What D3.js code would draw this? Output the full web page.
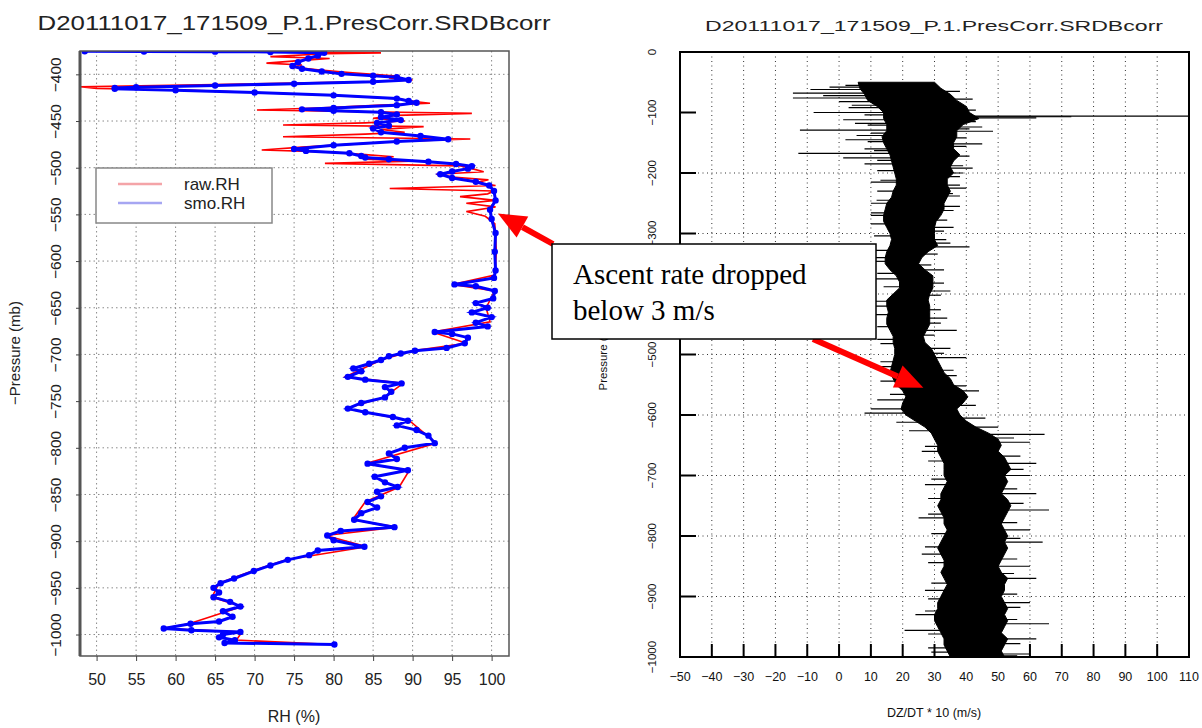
<!DOCTYPE html>
<html>
<head>
<meta charset="utf-8">
<script src="https://cdn.jsdelivr.net/npm/d3@7"></script>
<style>
  body { margin: 0; background: #fff; }
  svg { display: block; font-family: "Liberation Sans", Arial, sans-serif; }
</style>
</head>
<body>
<svg id="chart" width="1202" height="728"></svg>
<script>
// ---- DATA ----
const chartTitle = "D20111017_171509_P.1.PresCorr.SRDBcorr";

// left panel: [pressure mb, RH %]
const rawRH = [
  [375.3, 50], [375.6, 62], [376, 74], [377, 86], [378, 79], [381, 72], [383, 79.5], [385, 76],
  [388, 71.5], [390, 76], [392, 74.5], [395, 78], [398, 82], [400, 85], [402, 88.4], [404, 87],
  [406, 90], [408, 84], [411, 65], [413.3, 47.9], [415, 50], [417, 62], [420, 72], [423, 81],
  [426, 88], [429.3, 90.5], [431, 92.2], [433, 86], [436, 78], [438.2, 70.3], [440, 84], [441.8, 97.5],
  [444, 88], [447, 85], [450, 89], [452, 84], [454.3, 73.6], [456, 91.4], [459, 86], [462, 89],
  [464, 84], [466.8, 73.6], [469.3, 97.3], [472, 88], [475, 82], [478, 76], [481, 70.9], [483, 79],
  [486, 84], [488.2, 87.6], [491, 84], [493, 90], [495.4, 78.9], [498, 96], [501, 97.5], [504.3, 99],
  [507, 93], [510, 95], [513, 99.6], [516, 98], [519, 100.5], [522.2, 87.1], [525, 100.3], [528, 99.5],
  [531, 96], [535, 100.5], [538, 96.8], [542, 100.5], [547, 96.8], [552, 99.2], [560, 100.4],
  [590, 100.6], [615, 100.4], [625, 95], [632, 100.4], [650, 99.3], [665, 99.8], [676, 92.5],
  [688, 96.8], [696, 90], [706, 86], [724, 81.5], [731, 88.8], [746, 86.4], [758, 81.5], [771, 89.6],
  [795, 93], [817, 84], [824, 89.6], [842, 88.3], [858, 84], [877, 82.4], [885, 88], [894, 79],
  [906, 84.2], [920, 74], [932, 69.7], [945, 65.5], [960, 64.6], [970, 68.4], [988.5, 61.7],
  [993.5, 58.3], [997.2, 68.4], [1006, 67.7], [1010.7, 80]
];

const smoRH = [
  [375.3, 48.5], [375.5, 56], [375.7, 65], [376, 72], [377, 78.8], [380, 78], [383, 76.8], [387, 75.5],
  [391, 74.8], [394, 76], [397, 78.5], [399.5, 81], [401.5, 85], [403, 88], [406, 89.5], [408, 85],
  [410, 75], [412, 65], [413.8, 55], [414.5, 52.3], [415.5, 52.3], [417, 60], [419.5, 70], [422.5, 80],
  [426, 88], [428.5, 89.5], [430.5, 90.5], [433, 88], [436, 80], [437.5, 76], [439, 80], [440.5, 86],
  [443, 88], [446, 86], [449, 88.5], [452, 85.5], [455, 87], [458, 85], [462, 86], [466, 91],
  [469.5, 94.5], [472, 88], [476, 80], [480, 75], [482, 76.5], [484.5, 82], [487.5, 83.5], [489, 84],
  [491, 87], [493.5, 92], [496, 95.5], [498.5, 97.5], [501, 97], [504, 95], [507, 93.5], [511, 95],
  [515, 98], [519, 99.7], [525, 100.3], [535, 100.5], [545, 99.8], [555, 100], [570, 100.5],
  [590, 100.4], [610, 100.5], [618, 100.3], [625, 95.3], [627, 98], [632, 100.4], [640, 100.2],
  [645, 98], [650, 99.5], [655, 97.5], [660, 100], [666, 98], [670, 99.5], [676, 92.8], [678, 95],
  [682, 97], [688, 96.6], [693, 94.3], [696, 90.3], [699, 88.5], [702, 87], [706, 86], [710, 84.5],
  [715, 82.5], [718, 83.5], [724, 81.8], [727, 84], [731, 88.6], [735, 86.5], [740, 87.3], [746, 86.5],
  [752, 83.5], [758, 81.8], [762, 84], [767, 87.5], [771, 89.4], [776, 88], [781, 90.5], [787, 92],
  [795, 92.8], [800, 89], [806, 87], [812, 88], [817, 84.3], [824, 89.4], [831, 85.2], [837, 86.5],
  [842, 88.1], [847, 85.5], [852, 86], [858, 84.3], [864, 85.5], [870, 83.5], [877, 82.6], [885, 87.7],
  [889, 80.9], [894, 79.2], [899, 80], [906, 83.9], [910, 78], [915, 76.9], [920, 74.2], [926, 72],
  [932, 69.9], [940, 67.4], [945, 65.7], [950, 64.8], [955, 65.5], [960, 64.8], [965, 66.9],
  [970, 68.2], [975, 66], [981, 67.2], [986, 65.5], [988.5, 61.9], [993.5, 58.5], [995.5, 62],
  [997.2, 68.2], [1000, 66], [1003, 65.5], [1006, 67.5], [1009, 66.2], [1010.7, 80.1]
];

const rhTicks = [50, 55, 60, 65, 70, 75, 80, 85, 90, 95, 100];
const presTicksL = [-400, -450, -500, -550, -600, -650, -700, -750, -800, -850, -900, -950, -1000];

// right panel: ascent rate band (DZ/DT*10) per pressure level
const dzP = [50, 60, 70, 80, 90, 100, 110, 120, 130, 140, 150, 160, 170, 180, 190, 200, 210, 220, 230, 240,
  250, 260, 270, 280, 290, 300, 310, 320, 330, 340, 350, 360, 370, 380, 390, 400, 410, 420, 430, 440,
  450, 460, 470, 480, 490, 500, 510, 520, 530, 540, 550, 560, 570, 580, 590, 600, 610, 620, 630, 640,
  650, 660, 670, 680, 690, 700, 710, 720, 730, 740, 750, 760, 770, 780, 790, 800, 810, 820, 830, 840,
  850, 860, 870, 880, 890, 900, 910, 920, 930, 940, 950, 960, 970, 980, 990, 1000];
const dzLo = [6, 6.5, 8, 9, 12, 14, 14, 15, 15, 13.5, 14, 15, 16, 16.5, 17, 17.5, 18, 18, 17, 16.5,
  15, 14.5, 14, 14, 15, 16, 16.5, 16, 15, 14.5, 14.5, 16, 18, 19, 19, 17, 15, 15, 15.5, 15,
  15, 16, 17, 17, 17.5, 17.5, 17, 16.5, 16, 17, 18, 20, 21, 20, 19.5, 21, 24, 27, 29, 30,
  31, 31, 32, 33, 33, 33, 34, 33, 32, 32, 31, 32, 33, 33, 34, 33, 32, 31, 32, 33,
  33, 32, 33, 34, 33, 32, 31, 31, 30, 30, 31, 32, 33, 33, 34, 35];
const dzHi = [30, 32, 35, 37, 40, 41, 44, 39, 37, 37, 36, 36, 38, 36, 35, 36, 34, 34, 35, 34,
  33, 33, 32, 30.5, 30, 30, 30, 31, 28, 26, 25, 27, 29.5, 29.5, 29.5, 28.5, 28, 28.5, 28.5, 28.5,
  28.5, 27.5, 26.5, 27, 29, 30, 31, 32, 33, 35, 36, 39, 40.5, 39, 37, 38, 40, 43, 47, 50,
  51, 50, 52, 53, 54, 52, 53, 52, 51, 53, 54, 53, 52, 51, 52, 53, 52, 53, 52, 51,
  50, 51, 53, 52, 52, 51, 52, 53, 52, 53, 52, 51, 53, 52, 51, 52];
// isolated spikes: [pressure mb, DZ/DT*10]
const dzSpikes = [
  [58, -3], [62, -9], [68, -14.5], [72, -5], [76, -14.5], [82, 0], [92, 3], [100, -8], [106, 150],
  [107, 73], [109, 62], [112, 1.3], [118, 5], [124, 45], [129, -12.3], [131, 48.4], [138, 5.5],
  [145, 2], [152, 45], [160, 8], [167.6, -12.8], [175, 1.3], [185, 8], [192, 42], [200, 39],
  [215, 10], [225, 40], [234, 35.8], [245, 11.8], [255, 38], [270, 10], [290, 36], [310, 33.7],
  [322, 41], [340, 9], [360, 33], [375, 11], [395, 35], [420, 10], [440, 34], [460, 37], [475, 12],
  [490, 35], [505, 40], [520, 12], [535, 37], [560, 44], [575, 12], [590, 10], [597, 8], [605, 46],
  [620, 50], [632, 64.6], [645, 60], [660, 26], [680, 62], [700, 60], [715, 27], [730, 62],
  [757, 66], [770, 25], [790, 60], [810, 64], [830, 26], [850, 60], [870, 62], [890, 27], [910, 60],
  [930, 24], [945, 66], [956, 20.6], [970, 62], [985, 28], [995, 60]
];
// shorter hairs along the band edges: [pressure mb, DZ/DT*10]
const dzHairs = [
  [55, 2], [65, 38], [78, 42], [88, 4], [96, 43], [104, 8], [115, 43], [121, 9], [127, 41], [134, 10],
  [142, 40], [148, 9], [156, 40], [163, 11], [172, 41], [179, 12], [188, 39], [196, 12], [206, 38],
  [212, 13], [220, 38], [230, 12], [238, 38], [250, 10], [262, 36], [266, 10], [278, 34], [284, 10],
  [296, 33], [304, 11], [316, 35], [328, 11], [334, 31], [346, 10], [352, 29], [366, 12], [382, 33],
  [388, 14], [402, 32], [412, 11], [426, 32], [434, 11], [448, 32], [454, 12], [468, 30], [482, 13],
  [498, 33], [512, 13], [526, 36], [544, 13], [552, 40], [566, 16], [584, 43], [612, 18], [626, 22],
  [638, 55], [652, 27], [668, 57], [676, 28], [690, 58], [706, 29], [722, 56], [738, 28], [746, 58],
  [764, 28], [778, 56], [796, 29], [804, 57], [818, 27], [838, 56], [844, 28], [862, 55], [878, 29],
  [896, 56], [904, 28], [918, 57], [924, 27], [938, 56], [962, 28], [978, 57], [992, 29], [998, 56]
];
const dzTicks = [-50, -40, -30, -20, -10, 0, 10, 20, 30, 40, 50, 60, 70, 80, 90, 100, 110];
const presTicksR = [0, -100, -200, -300, -400, -500, -600, -700, -800, -900, -1000];

// ---- SETUP ----
const svg = d3.select("#chart");
const defs = svg.append("defs");
const fmt = d3.format("d");

const xL = d3.scaleLinear().domain([47.9, 102.2]).range([80, 509]);
const yL = d3.scaleLinear().domain([-375, -1023]).range([51, 656]);
const xR = d3.scaleLinear().domain([-50, 110]).range([680, 1189]);
const yR = d3.scaleLinear().domain([0, -1000]).range([52, 657]);

defs.append("clipPath").attr("id", "clipL").append("rect")
  .attr("x", 80).attr("y", 51).attr("width", 429).attr("height", 605);
defs.append("clipPath").attr("id", "clipR").append("rect")
  .attr("x", 680).attr("y", 52).attr("width", 509).attr("height", 605);

// ---- LEFT PANEL ----
const gL = svg.append("g");

gL.append("text").attr("x", 294).attr("y", 30).attr("text-anchor", "middle")
  .attr("font-size", 21).attr("textLength", 513).attr("lengthAdjust", "spacingAndGlyphs")
  .attr("fill", "#222").text(chartTitle);

// dotted grid
gL.selectAll("line.gx").data(rhTicks).join("line").attr("class", "gx")
  .attr("x1", d => xL(d)).attr("x2", d => xL(d)).attr("y1", 51).attr("y2", 656)
  .attr("stroke", "#8a8a8a").attr("stroke-width", 1).attr("stroke-dasharray", "1.5,3");
gL.selectAll("line.gy").data(presTicksL).join("line").attr("class", "gy")
  .attr("x1", 80).attr("x2", 509).attr("y1", d => yL(d)).attr("y2", d => yL(d))
  .attr("stroke", "#8a8a8a").attr("stroke-width", 1).attr("stroke-dasharray", "1.5,3");

const lineL = d3.line().x(d => xL(d[1])).y(d => yL(-d[0]));
const plotL = gL.append("g").attr("clip-path", "url(#clipL)");
plotL.append("path").datum(rawRH).attr("d", lineL)
  .attr("fill", "none").attr("stroke", "#ff0000").attr("stroke-width", 1.6);
plotL.append("path").datum(smoRH).attr("d", lineL)
  .attr("fill", "none").attr("stroke", "#0000ff").attr("stroke-width", 3);
plotL.selectAll("circle").data(smoRH).join("circle")
  .attr("cx", d => xL(d[1])).attr("cy", d => yL(-d[0])).attr("r", 3.2).attr("fill", "#0000ff");

// frame + axes
gL.append("rect").attr("x", 80).attr("y", 51).attr("width", 429).attr("height", 605)
  .attr("fill", "none").attr("stroke", "#555").attr("stroke-width", 1.5);
gL.append("line").attr("x1", 80).attr("x2", 80).attr("y1", 51).attr("y2", 656)
  .attr("stroke", "#555").attr("stroke-width", 3);

const axL = gL.append("g").attr("transform", "translate(80,0)")
  .call(d3.axisLeft(yL).tickValues(presTicksL).tickFormat(fmt).tickSize(4));
axL.select(".domain").remove();
axL.selectAll("line").attr("stroke", "#444");
axL.selectAll("text").attr("font-size", 15.5).attr("fill", "#222")
  .attr("x", 0).attr("y", 0).attr("dy", "0.35em").attr("text-anchor", "middle")
  .attr("transform", "translate(-24,0) rotate(-90)");

const axB = gL.append("g").attr("transform", "translate(0,656)")
  .call(d3.axisBottom(xL).tickValues(rhTicks).tickFormat(fmt).tickSize(5).tickPadding(13));
axB.select(".domain").remove();
axB.selectAll("line").attr("stroke", "#444");
axB.selectAll("text").attr("font-size", 16).attr("fill", "#222");

gL.append("text").attr("transform", "translate(20,353) rotate(-90)").attr("text-anchor", "middle")
  .attr("font-size", 15).attr("fill", "#222").text("\u2212Pressure (mb)");
gL.append("text").attr("x", 294).attr("y", 722).attr("text-anchor", "middle")
  .attr("font-size", 16).attr("fill", "#222").text("RH (%)");

// legend
const leg = gL.append("g");
leg.append("rect").attr("x", 96).attr("y", 168).attr("width", 176).attr("height", 55)
  .attr("fill", "#fff").attr("stroke", "#888").attr("stroke-width", 1.5);
const legItems = [["raw.RH", "#f4a4a8"], ["smo.RH", "#a6a6f2"]];
legItems.forEach(([name, col], i) => {
  const y = 184 + i * 19;
  leg.append("line").attr("x1", 118).attr("x2", 162).attr("y1", y).attr("y2", y)
    .attr("stroke", col).attr("stroke-width", 2.5);
  leg.append("text").attr("x", 184).attr("y", y + 6).attr("font-size", 17).attr("fill", "#222").text(name);
});

// ---- RIGHT PANEL ----
const gR = svg.append("g");

gR.append("text").attr("x", 934).attr("y", 31).attr("text-anchor", "middle")
  .attr("font-size", 15).attr("textLength", 458).attr("lengthAdjust", "spacingAndGlyphs")
  .attr("fill", "#222").text(chartTitle);

// dotted grid
gR.selectAll("line.gx").data(dzTicks.slice(1, -1)).join("line").attr("class", "gx")
  .attr("x1", d => xR(d)).attr("x2", d => xR(d)).attr("y1", 52).attr("y2", 657)
  .attr("stroke", "#333").attr("stroke-width", 1).attr("stroke-dasharray", "1,3.5");
gR.selectAll("line.gy").data(presTicksR.slice(2, -1)).join("line").attr("class", "gy")
  .attr("x1", 680).attr("x2", 1189).attr("y1", d => yR(d)).attr("y2", d => yR(d))
  .attr("stroke", "#333").attr("stroke-width", 1).attr("stroke-dasharray", "1,3.5");

const band = dzP.map((p, i) => ({ p: p, lo: dzLo[i], hi: dzHi[i] }));
const plotR = gR.append("g").attr("clip-path", "url(#clipR)");
plotR.append("path").datum(band)
  .attr("d", d3.area().y(d => yR(-d.p)).x0(d => xR(d.lo)).x1(d => xR(d.hi)))
  .attr("fill", "#000").attr("stroke", "#000").attr("stroke-width", 1);
const bisect = d3.bisector(d => d.p).center;
const bandMid = p => { const b = band[bisect(band, p)]; return xR((b.lo + b.hi) / 2); };
plotR.selectAll("line.spike").data(dzSpikes.concat(dzHairs)).join("line").attr("class", "spike")
  .attr("x1", d => bandMid(d[0]))
  .attr("x2", d => xR(d[1]))
  .attr("y1", d => yR(-d[0])).attr("y2", d => yR(-d[0]))
  .attr("stroke", "#000").attr("stroke-width", 1.2);

gR.append("rect").attr("x", 680).attr("y", 52).attr("width", 509).attr("height", 605)
  .attr("fill", "none").attr("stroke", "#000").attr("stroke-width", 2);

// inward ticks
gR.selectAll("line.ty").data(presTicksR).join("line").attr("class", "ty")
  .attr("x1", 680).attr("x2", 696).attr("y1", d => yR(d)).attr("y2", d => yR(d))
  .attr("stroke", "#000").attr("stroke-width", 2);
gR.selectAll("text.ly").data(presTicksR).join("text").attr("class", "ly")
  .attr("transform", d => `translate(652,${yR(d)}) rotate(-90)`)
  .attr("text-anchor", "middle").attr("dy", "0.35em").attr("font-size", 11.5).attr("fill", "#111")
  .text(d => fmt(d));
gR.selectAll("line.tx").data(dzTicks).join("line").attr("class", "tx")
  .attr("x1", d => xR(d)).attr("x2", d => xR(d)).attr("y1", 657).attr("y2", 644)
  .attr("stroke", "#000").attr("stroke-width", 2);
gR.selectAll("text.lx").data(dzTicks).join("text").attr("class", "lx")
  .attr("x", d => xR(d)).attr("y", 681).attr("text-anchor", "middle")
  .attr("font-size", 12.5).attr("fill", "#111")
  .text(d => fmt(d));

gR.append("text").attr("transform", "translate(607,354) rotate(-90)").attr("text-anchor", "middle")
  .attr("font-size", 11.5).attr("fill", "#111").text("Pressure (mb)");
gR.append("text").attr("x", 934).attr("y", 717).attr("text-anchor", "middle")
  .attr("font-size", 12.5).attr("fill", "#111").text("DZ/DT * 10 (m/s)");

// ---- ANNOTATION ----
const note = svg.append("g");
function arrow(x1, y1, x2, y2) {
  const a = Math.atan2(y2 - y1, x2 - x1), len = 28, w = 12;
  const bx = x2 - len * Math.cos(a), by = y2 - len * Math.sin(a);
  note.append("line").attr("x1", x1).attr("y1", y1).attr("x2", bx).attr("y2", by)
    .attr("stroke", "#ff0000").attr("stroke-width", 6);
  note.append("polygon").attr("fill", "#ff0000").attr("points", [
    [x2, y2],
    [bx + w * Math.sin(a), by - w * Math.cos(a)],
    [bx - w * Math.sin(a), by + w * Math.cos(a)]
  ].map(p => p.join(",")).join(" "));
}
arrow(553, 244, xL(100.8), yL(-549));
arrow(813, 339, xR(26.5), yR(-555));

note.append("rect").attr("x", 552).attr("y", 244).attr("width", 324).attr("height", 95)
  .attr("fill", "#fff").attr("stroke", "#000").attr("stroke-width", 1.5);
note.append("text").attr("x", 573).attr("y", 284).attr("font-family", "'Liberation Serif', 'Times New Roman', serif")
  .attr("font-size", 29).attr("fill", "#000").text("Ascent rate dropped");
note.append("text").attr("x", 573).attr("y", 320).attr("font-family", "'Liberation Serif', 'Times New Roman', serif")
  .attr("font-size", 29).attr("fill", "#000").text("below 3 m/s");
</script>
</body>
</html>
